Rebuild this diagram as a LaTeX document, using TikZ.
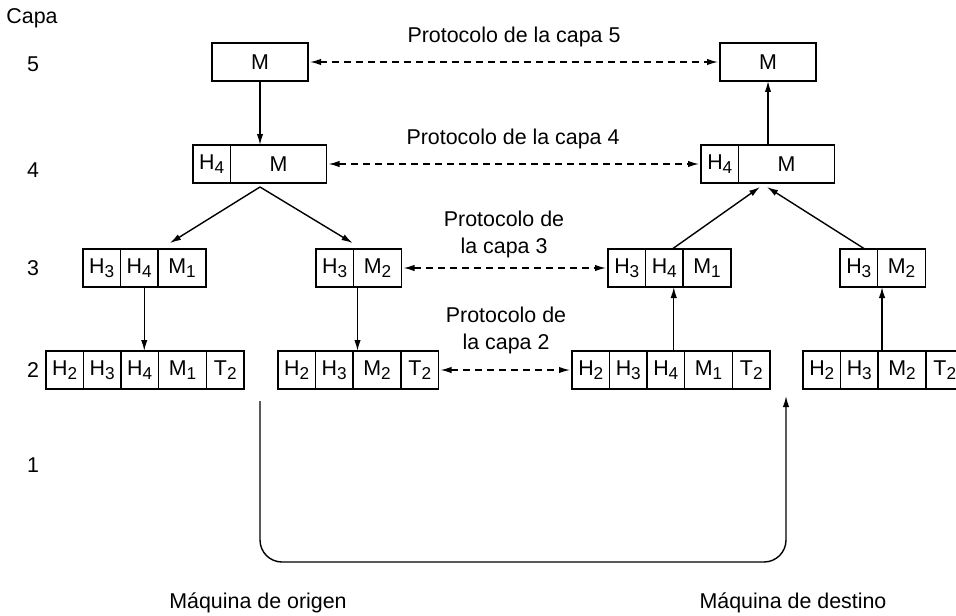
\documentclass[tikz,border=0pt]{standalone}
\usepackage{fontspec}
\setmainfont{Liberation Sans}
\usetikzlibrary{arrows.meta,positioning,calc}
\newcommand{\lsub}[1]{\raisebox{-2pt}{\fontsize{8.6}{9}\selectfont#1}}
\tikzstyle{hcell} = [draw, line width=0.75pt,
minimum width=18.75pt,
minimum height=19pt,
inner sep=0pt, outer sep=0pt]
\tikzstyle{mcell} = [hcell, minimum width=24pt]
\tikzstyle{bigcell} = [hcell, minimum width=48pt]
\tikzstyle{arrow} = [->, line width=0.7pt]
\tikzstyle{peer} = [<->, line width=0.7pt, dash pattern=on 3.5pt off 2.5pt, shorten >=1pt, shorten <=1pt]

\begin{document}
\begin{tikzpicture}[
  x=0.5pt, y=-0.5pt,
  >={Latex[length=5.5pt,width=3.2pt]},
  node distance=0pt, % cells of one packet touch
  font=\fontsize{10.7}{13.5}\selectfont,
]
  \useasboundingbox (0,0) rectangle (956,615);

  % capa 5
  \node[bigcell] (o5) at (260,62) {M};
  \node[bigcell] (d5) at (768,62) {M};

  % capa 4
  \node[hcell, anchor=west] (o4h) at (193,164) {H\lsub{4}};
  \node[bigcell, right=of o4h]            (o4m) {M};
  \node[hcell, anchor=west] (d4h) at (701,164) {H\lsub{4}};
  \node[bigcell, right=of d4h]            (d4m) {M};

  % capa 3
  \node[hcell, anchor=west] (o3a) at (83,268) {H\lsub{3}};
  \node[hcell, right=of o3a]             (o3b) {H\lsub{4}};
  \node[mcell, right=of o3b]             (o3c) {M\lsub{1}};
  \node[hcell, anchor=west] (p3a) at (316,268) {H\lsub{3}};
  \node[mcell, right=of p3a]             (p3b) {M\lsub{2}};

  \node[hcell, anchor=west] (d3a) at (608,268) {H\lsub{3}};
  \node[hcell, right=of d3a]             (d3b) {H\lsub{4}};
  \node[mcell, right=of d3b]             (d3c) {M\lsub{1}};
  \node[hcell, anchor=west] (e3a) at (840,268) {H\lsub{3}};
  \node[mcell, right=of e3a]             (e3b) {M\lsub{2}};

  % capa 2
  \node[hcell, anchor=west] (o2a) at (46,370) {H\lsub{2}};
  \node[hcell, right=of o2a]             (o2b) {H\lsub{3}};
  \node[hcell, right=of o2b]             (o2c) {H\lsub{4}};
  \node[mcell, right=of o2c]             (o2d) {M\lsub{1}};
  \node[hcell, right=of o2d]             (o2e) {T\lsub{2}};
  \node[hcell, anchor=west] (p2a) at (278,370) {H\lsub{2}};
  \node[hcell, right=of p2a]             (p2b) {H\lsub{3}};
  \node[mcell, right=of p2b]             (p2c) {M\lsub{2}};
  \node[hcell, right=of p2c]             (p2d) {T\lsub{2}};

  \node[hcell, anchor=west] (d2a) at (572,370) {H\lsub{2}};
  \node[hcell, right=of d2a]             (d2b) {H\lsub{3}};
  \node[hcell, right=of d2b]             (d2c) {H\lsub{4}};
  \node[mcell, right=of d2c]             (d2d) {M\lsub{1}};
  \node[hcell, right=of d2d]             (d2e) {T\lsub{2}};
  \node[hcell, anchor=west] (e2a) at (803,370) {H\lsub{2}};
  \node[hcell, right=of e2a]             (e2b) {H\lsub{3}};
  \node[mcell, right=of e2b]             (e2c) {M\lsub{2}};
  \node[hcell, right=of e2c]             (e2d) {T\lsub{2}};

  % numeros de capa
  \node (capa) at (32,18) {Capa};
  \node (n5) at (33,64)  {5};
  \node (n4) at (33,170) {4};
  \node (n3) at (33,268) {3};
  \node (n2) at (33,370) {2};
  \node (n1) at (33,465) {1};

  \node (lbl5) at (514,37)  {Protocolo de la capa 5};
  \node (lbl4) at (513,139) {Protocolo de la capa 4};
  \node[align=center] (lbl3) at (504,234) {Protocolo de\\la capa 3};
  \node[align=center] (lbl2) at (506,330) {Protocolo de\\la capa 2};

  \node (origen)  at (258,603) {Máquina de origen};
  \node (destino) at (793,603) {Máquina de destino};

  % bajando por la maquina de origen
  \draw[arrow] (o5) -- (o5 |- o4m.north);
  \coordinate (o4apex) at ($(o5 |- o4m.south)+(0,4)$);
  \draw[arrow] (o4apex) -- ($(o3c.north west)+(12,-6)$);
  \draw[arrow] (o4apex) -- ($(p3b.north west)+(-1,-6)$);
  \draw[arrow] ($(o3b.south)+(5,0)$) coordinate (t1) -- (t1 |- o2c.north);
  \draw[arrow] ($(p3b.south west)+(4,0)$) coordinate (t2) -- (t2 |- p2c.north);

  % subiendo por la maquina de destino
  \draw[arrow] (d5 |- d4m.north) -- (d5);
  \draw[arrow] ($(d3b.north)+(8,0)$) -- ($(d5 |- d4m.south)+(-8,4)$);
  \draw[arrow] ($(e3a.north)+(6,0)$) -- ($(d5 |- d4m.south)+(-1,4)$);
  \draw[arrow] ($(d2c.north)+(8,0)$) coordinate (t3) -- (t3 |- d3b.south);
  \draw[arrow] ($(e2c.north west)+(4,0)$) coordinate (t4) -- (t4 |- e3b.south);

  % protocolos entre pares
  \draw[peer] (o5) -- (d5);
  \draw[peer] (o4m) -- (d4h);
  \draw[peer] (p3b) -- (d3a);
  \draw[peer] (p2d) -- (d2a);

  % capa 1, medio fisico
  \coordinate (txo) at (260,401);
  \coordinate (txb) at (260,562);
  \coordinate (rxd) at (786,396);
  \draw[arrow, rounded corners=11pt] (txo) -- (txb) -| (rxd);
\end{tikzpicture}
\end{document}
